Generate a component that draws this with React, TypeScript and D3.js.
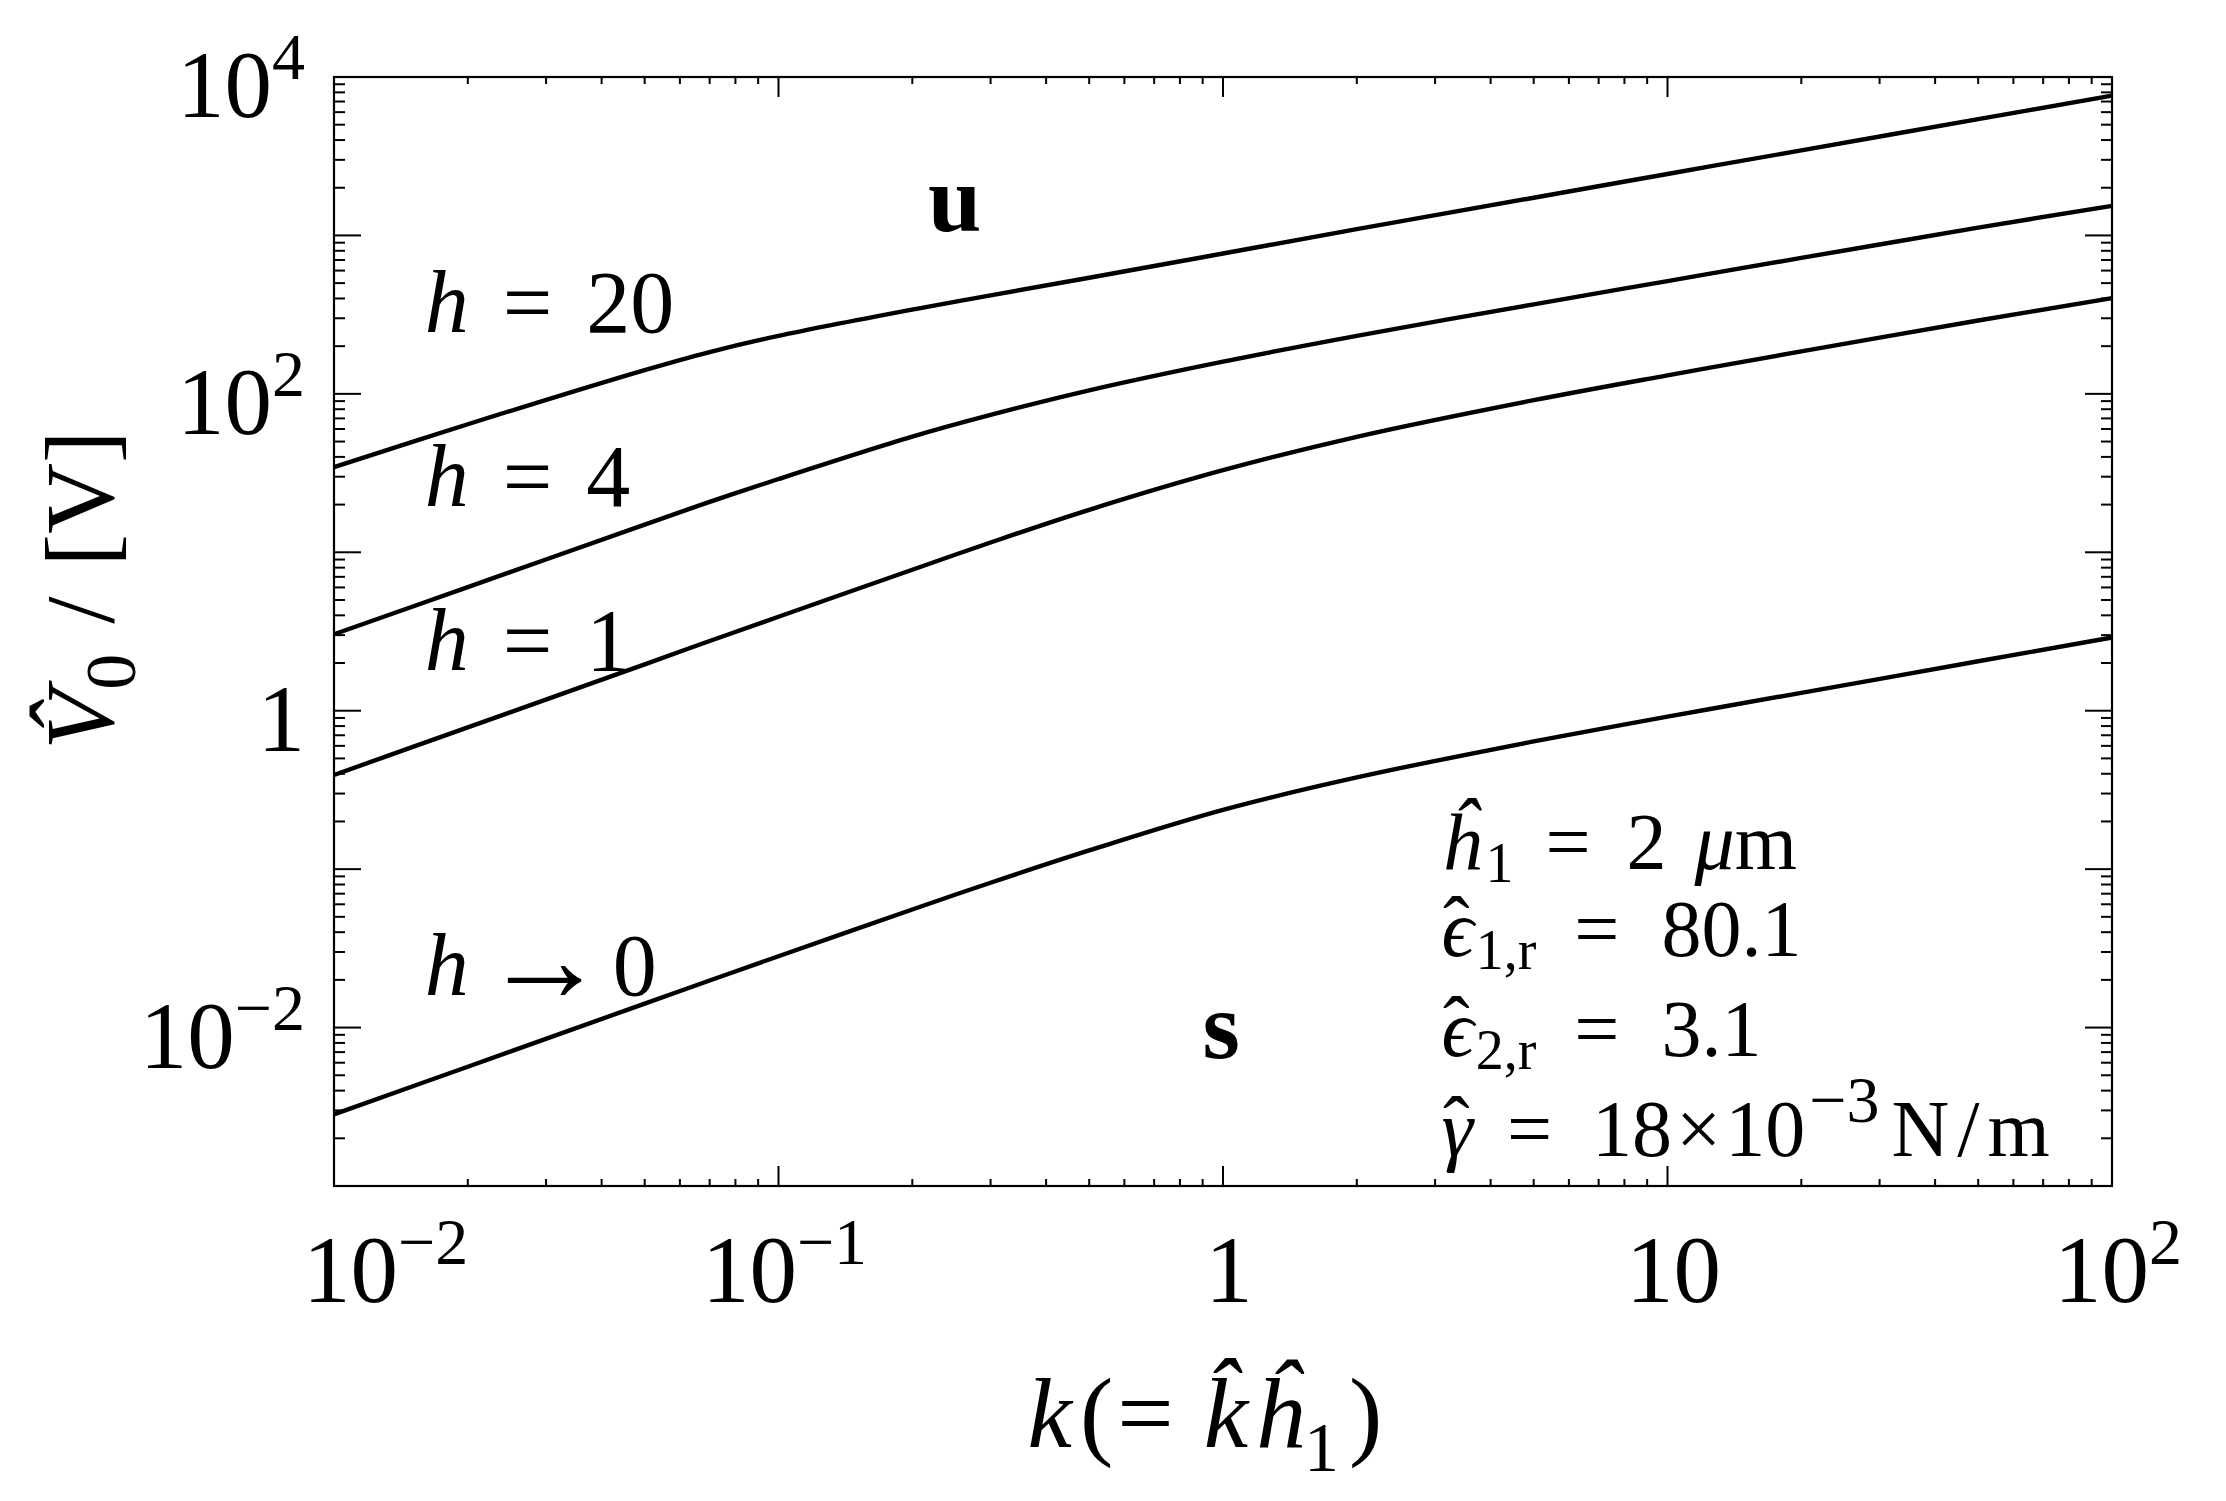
import React from "react";
import * as d3 from "d3";

// ---------- data ----------
const kValues = [0.01, 0.02, 0.05, 0.07, 0.1, 0.2, 0.3, 0.5, 1, 2, 5, 10, 20, 50, 100];
const vH20 = [34.5, 64.3, 141.3, 183.7, 232.3, 340.4, 418.8, 540.8, 769.1, 1096, 1730, 2443, 3443, 5420, 7621];
const vH4 = [3.04, 6.03, 14.96, 20.8, 29.0, 53.7, 73.6, 105.2, 159.6, 232.3, 367.3, 515.2, 721.1, 1119, 1538];
const vH1 = [0.393, 0.785, 1.963, 2.754, 3.917, 7.76, 11.53, 18.54, 32.96, 53.58, 91.2, 130.9, 185.4, 290.4, 401.8];
const vH0 = [0.002831, 0.005662, 0.01416, 0.01982, 0.02821, 0.05561, 0.0821, 0.1313, 0.2367, 0.3793, 0.6397, 0.9173, 1.297, 2.051, 2.897];
const seriesValues = [vH20, vH4, vH1, vH0];

const curveLabelRel = ["=", "=", "=", "\u2192"];
const curveLabelVal = ["20", "4", "1", "0"];
const curveLabelK = 0.016;
const curveLabelV = [246, 19.6, 1.82, 0.0161];

const xTickValues = [0.01, 0.1, 1, 10, 100];
const xTickBase = ["10", "10", "1", "10", "10"];
const xTickSup = ["\u22122", "\u22121", "", "", "2"];
const yTickValues = [1e4, 1e2, 1, 1e-2];
const yTickBase = ["10", "10", "1", "10"];
const yTickSup = ["4", "2", "", "\u22122"];

const regionLabels = ["u", "s"];
const regionK = [0.249, 0.99];
const regionV = [1067, 0.00647];

const paramK = 3.1;
const paramV = 0.1;

const FONT = "'Liberation Serif', 'DejaVu Serif', 'Times New Roman', serif";

export default function App() {
  const W = 2226;
  const H = 1501;
  const left = 334;
  const right = 2112;
  const top = 77;
  const bottom = 1186;

  const x = d3.scaleLog().domain([0.01, 100]).range([left, right]);
  const y = d3.scaleLog().domain([1e-3, 1e4]).range([bottom, top]);

  const line = d3
    .line<number>()
    .x((_, i) => x(kValues[i]))
    .y((d) => y(d))
    .curve(d3.curveCatmullRom.alpha(0.5));

  const isMajor = (t: number) => Math.abs(Math.log10(t) - Math.round(Math.log10(t))) < 1e-9;
  const xTicks = x.ticks();
  const yTicks = y.ticks();

  const tickFs = 95;
  const supFs = 66;
  const annFs = 88;
  const boxFs = 80;
  const subFs = 56;

  const bx = x(paramK);
  const by = y(paramV);
  const lineOff = [0, 87, 187, 287];

  return (
    <svg
      width={W}
      height={H}
      viewBox={`0 0 ${W} ${H}`}
      style={{ position: "absolute", left: 0, top: 0, display: "block", background: "#fff" }}
      fontFamily={FONT}
    >
      <rect x={0} y={0} width={W} height={H} fill="#fff" />

      {/* ticks */}
      <g stroke="#000" strokeWidth={2}>
        {xTicks.map((t, i) => {
          const len = isMajor(t) ? 20 : 7;
          const xx = x(t);
          return (
            <g key={"xt" + i}>
              <line x1={xx} x2={xx} y1={bottom} y2={bottom - len} />
              <line x1={xx} x2={xx} y1={top} y2={top + len} />
            </g>
          );
        })}
        {yTicks.map((t, i) => {
          const len = isMajor(t) ? 27 : 11;
          const yy = y(t);
          return (
            <g key={"yt" + i}>
              <line x1={left} x2={left + len} y1={yy} y2={yy} />
              <line x1={right} x2={right - len} y1={yy} y2={yy} />
            </g>
          );
        })}
      </g>

      {/* curves */}
      <g fill="none" stroke="#000" strokeWidth={4.4} strokeLinejoin="round">
        {seriesValues.map((s, i) => (
          <path key={"c" + i} d={line(s) || ""} />
        ))}
      </g>

      {/* frame */}
      <rect x={left} y={top} width={right - left} height={bottom - top} fill="none" stroke="#000" strokeWidth={2.2} />

      {/* x tick labels */}
      {xTickValues.map((v, i) => (
        <text
          key={"xl" + i}
          x={i === 0 ? x(v) - 31 : x(v) + 6}
          y={1302}
          fontSize={tickFs}
          textAnchor={i === 0 ? "start" : "middle"}
        >
          {xTickBase[i]}
          {xTickSup[i] ? (
            <tspan fontSize={supFs} dy={-38}>
              {xTickSup[i]}
            </tspan>
          ) : null}
        </text>
      ))}

      {/* y tick labels */}
      {yTickValues.map((v, i) => (
        <text key={"yl" + i} x={305} y={y(v) + 40} fontSize={tickFs} textAnchor="end">
          {yTickBase[i]}
          {yTickSup[i] ? (
            <tspan fontSize={supFs} dy={-38}>
              {yTickSup[i]}
            </tspan>
          ) : null}
        </text>
      ))}

      {/* x axis label */}
      <text x={1205} y={1447} fontSize={100} textAnchor="middle">
        <tspan fontStyle="italic">k</tspan>
        <tspan dx={8}>(</tspan>
        <tspan dx={4}>=</tspan>
        <tspan dx={30} fontStyle="italic">{"k\u0302"}</tspan>
        <tspan dx={6} fontStyle="italic">{"\u0125"}</tspan>
        <tspan fontSize={70} dy={24}>1</tspan>
        <tspan dy={-24} dx={10}>)</tspan>
      </text>

      {/* y axis label */}
      <text transform="translate(113,590) rotate(-90)" fontSize={98} textAnchor="middle">
        <tspan fontStyle="italic">{"V\u0302"}</tspan>
        <tspan fontSize={72} dy={22}>0</tspan>
        <tspan dy={-22} dx={30}>/</tspan>
        <tspan dx={30}>[V]</tspan>
      </text>

      {/* curve labels */}
      {curveLabelV.map((v, i) => {
        const isArrow = curveLabelRel[i] !== "=";
        return (
          <text key={"cl" + i} x={x(curveLabelK)} y={y(v)} fontSize={annFs}>
            <tspan fontStyle="italic">h</tspan>
            {isArrow ? (
              <tspan dx={14} fontSize={124} dy={6}>
                {curveLabelRel[i]}
              </tspan>
            ) : (
              <tspan dx={34}>=</tspan>
            )}
            <tspan dx={isArrow ? 6 : 34} dy={isArrow ? -6 : 0}>
              {curveLabelVal[i]}
            </tspan>
          </text>
        );
      })}

      {/* region labels */}
      {regionLabels.map((s, i) => (
        <text
          key={"rl" + i}
          x={x(regionK[i])}
          y={y(regionV[i])}
          fontSize={96}
          fontWeight="bold"
          textAnchor="middle"
        >
          {s}
        </text>
      ))}

      {/* parameter box */}
      <g fontSize={boxFs}>
        <text x={bx} y={by + lineOff[0]}>
          <tspan fontStyle="italic">{"\u0125"}</tspan>
          <tspan fontSize={subFs} dy={13} dx={4}>1</tspan>
          <tspan dy={-13} dx={32}>=</tspan>
          <tspan dx={36}>2</tspan>
          <tspan dx={28} fontStyle="italic">μ</tspan>
          <tspan>m</tspan>
        </text>

        <text x={bx} y={by + lineOff[1]}>
          <tspan fontStyle="italic">{"\u03F5"}</tspan>
          <tspan fontSize={subFs} dy={13} dx={2}>1,r</tspan>
          <tspan dy={-13} dx={38}>=</tspan>
          <tspan dx={42}>80.1</tspan>
        </text>
        <text x={bx + 15} y={by + lineOff[1] - 4} textAnchor="middle">{"\u02C6"}</text>

        <text x={bx} y={by + lineOff[2]}>
          <tspan fontStyle="italic">{"\u03F5"}</tspan>
          <tspan fontSize={subFs} dy={13} dx={2}>2,r</tspan>
          <tspan dy={-13} dx={38}>=</tspan>
          <tspan dx={42}>3.1</tspan>
        </text>
        <text x={bx + 15} y={by + lineOff[2] - 4} textAnchor="middle">{"\u02C6"}</text>

        <text x={bx} y={by + lineOff[3]}>
          <tspan fontStyle="italic">{"\u03B3"}</tspan>
          <tspan dx={34}>=</tspan>
          <tspan dx={40}>18</tspan>
          <tspan dx={4}>×</tspan>
          <tspan dx={4}>10</tspan>
          <tspan fontSize={66} dy={-34} dx={4}>{"\u22123"}</tspan>
          <tspan dy={34} dx={12}>N</tspan>
          <tspan dx={8}>/</tspan>
          <tspan dx={8}>m</tspan>
        </text>
        <text x={bx + 15} y={by + lineOff[3] - 4} textAnchor="middle">{"\u02C6"}</text>
      </g>
    </svg>
  );
}
